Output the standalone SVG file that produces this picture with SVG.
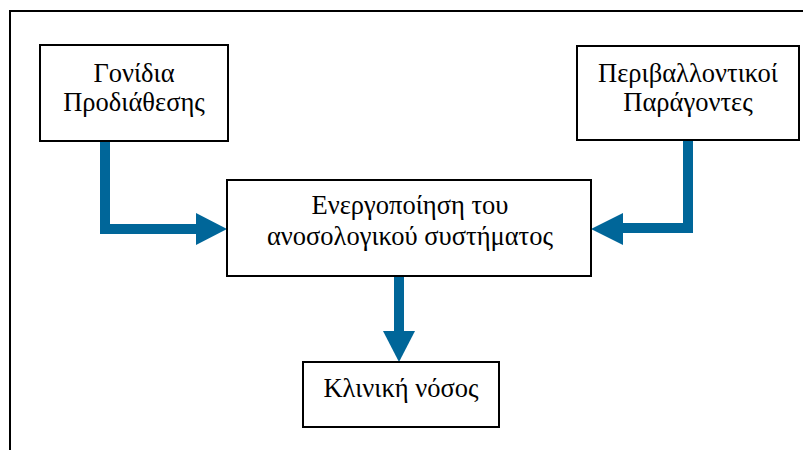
<svg xmlns="http://www.w3.org/2000/svg" width="803" height="450" viewBox="0 0 803 450">
<style>
.box{fill:#fff;stroke:#000;stroke-width:2}
.t{font-family:"Liberation Serif","Times New Roman",serif;font-size:26.5px;fill:#000;text-anchor:middle}
.c{fill:none;stroke:#006699;stroke-width:10;stroke-linejoin:miter}
.h{fill:#006699}
</style>
<rect x="10" y="11" width="810" height="460" fill="#fff" stroke="#000" stroke-width="2"/>
<g id="connectors">
<polyline class="c" points="105,141 105,229 197,229"/>
<polygon class="h" points="196,213 227,229 196,245"/>
<polyline class="c" points="688,140 688,228 622,228"/>
<polygon class="h" points="623,213 591,229 623,245"/>
<polyline class="c" points="399,276 399,332"/>
<polygon class="h" points="383,331 415,331 399,362"/>
</g>
<g id="genes">
<rect class="box" x="40" y="45" width="188" height="96"/>
<text class="t" x="134" y="82">Γονίδια</text>
<text class="t" x="134" y="111">Προδιάθεσης</text>
</g>
<g id="environment">
<rect class="box" x="577" y="46" width="222" height="94"/>
<text class="t" x="688" y="82">Περιβαλλοντικοί</text>
<text class="t" x="688" y="111">Παράγοντες</text>
</g>
<g id="immune">
<rect class="box" x="227" y="180" width="364" height="96"/>
<text class="t" x="410" y="214">Ενεργοποίηση του</text>
<text class="t" x="410" y="245">ανοσολογικού συστήματος</text>
</g>
<g id="disease">
<rect class="box" x="303" y="362" width="196" height="65"/>
<text class="t" x="401" y="397">Κλινική νόσος</text>
</g>
</svg>
